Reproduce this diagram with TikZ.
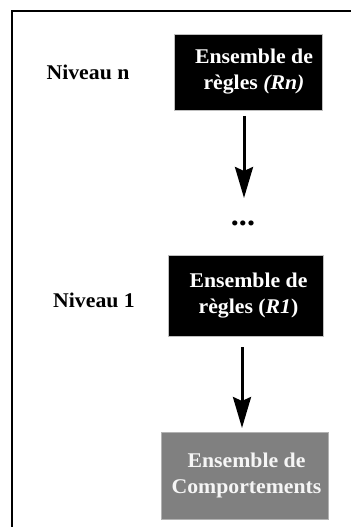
\documentclass[tikz,border=0pt]{standalone}
\usepackage{fontspec}
\setmainfont{Liberation Serif}[FakeStretch=1.04]
\usetikzlibrary{arrows.meta}
\newcommand{\shiftin}[1]{\hspace*{#1}}
\begin{document}
\begin{tikzpicture}[x=1bp,y=-1bp,
  every node/.style={font=\fontsize{21}{26}\selectfont\bfseries, inner sep=0pt},
  blackbox/.style={fill=black, draw=black!25, line width=0.6bp, text=white, align=center},
  graybox/.style={fill=black!50, draw=black!30, line width=0.6bp, text=black!4, align=center},
  label/.style={text=black},
  arr/.style={line width=3bp, -{Stealth[length=31bp,width=18bp,inset=4bp]}},
  frame/.style={line width=2bp}]
\useasboundingbox (0,0) rectangle (350,527);
\fill[white] (0,0) rectangle (350,527);
\coordinate (fbl) at (12,530);
\coordinate (ftl) at (12,11);
\coordinate (ftr) at (353,11);
\draw[frame] (fbl) -- (ftl) -- (ftr);

\node[blackbox, minimum width=148bp, minimum height=76bp] (Rn) at (248,72)
  {\shiftin{12bp}Ensemble de\\\shiftin{12bp}règles \textit{(Rn)}};
\node[label] (Ln) at (88,72) {Niveau n};

\node[font=\fontsize{31}{31}\selectfont\bfseries] (dots) at (243,223) {...};

\node[blackbox, minimum width=155bp, minimum height=81bp] (R1) at (245.5,295.5)
  {\shiftin{6bp}Ensemble de\\\shiftin{6bp}règles (\textit{R1})};
\node[label] (L1) at (94,300) {Niveau 1};

\node[graybox, minimum width=167bp, minimum height=87bp] (C) at (244.5,475.5)
  {\shiftin{4bp}Ensemble de\\\shiftin{4bp}Comportements};

\coordinate (a1s) at (244,116);
\coordinate (a1e) at (244,198);
\coordinate (a2s) at (242,347);
\coordinate (a2e) at (242,428);
\draw[arr] (a1s) -- (a1e);
\draw[arr] (a2s) -- (a2e);
\end{tikzpicture}
\end{document}
